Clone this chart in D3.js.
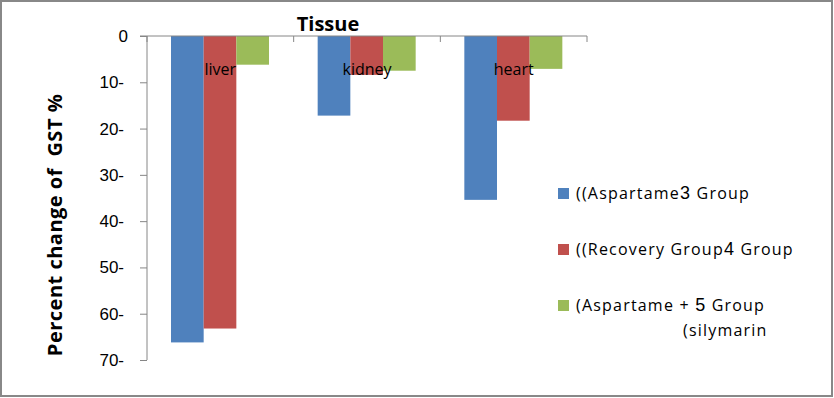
<!DOCTYPE html>
<html lang="en">
<head>
  <meta charset="UTF-8">
  <title>Percent change of GST</title>
  <script src="https://d3js.org/d3.v7.min.js"></script>
  <style>
    body { margin: 0; background: #fff; }
    svg { display: block; }
  </style>
</head>
<body>

<svg width="834" height="398"></svg>

<script>
  const tissues = ["liver", "kidney", "heart"];
  const groups = ["g3", "g4", "g5"];
  const aspartame = [66.2, 17.2, 35.4];
  const recovery = [63.2, 8.4, 18.3];
  const silymarin = [6.2, 7.5, 7.1];
  const yTicks = [0, 10, 20, 30, 40, 50, 60, 70];
  const colors = ["#4F81BD", "#C0504D", "#9BBB59"];
  const legendLabels = [
    [["((Aspartame", "3", " Group"]],
    [["((Recovery Group", "4", " Group"]],
    [["(Aspartame + ", "5", " Group"], ["(silymarin"]]
  ];

  const series = [aspartame, recovery, silymarin];
  const data = tissues.map((t, i) => ({ tissue: t, values: series.map(s => s[i]) }));

  const svg = d3.select("svg");
  const txtFont = "'Open Sans', 'Noto Sans', sans-serif";

  // outer frame
  svg.append("rect")
    .attr("x", 1).attr("y", 1).attr("width", 831).attr("height", 395)
    .attr("fill", "#fff").attr("stroke", "#888").attr("stroke-width", 2);

  const x0 = d3.scaleBand().domain(tissues).range([147, 587]);
  const x1 = d3.scaleBand().domain(groups).range([24, 122]);
  const y = d3.scaleLinear().domain([0, 70]).range([36, 360]);

  // bars
  svg.append("g").selectAll("g")
    .data(data)
    .join("g")
    .attr("transform", d => `translate(${x0(d.tissue)},0)`)
    .selectAll("rect")
    .data(d => d.values.map((v, i) => ({ v, i })))
    .join("rect")
    .attr("x", d => x1(groups[d.i]))
    .attr("y", y(0))
    .attr("width", x1.bandwidth())
    .attr("height", d => y(d.v) - y(0))
    .attr("fill", d => colors[d.i]);

  // top category axis
  const xAxis = svg.append("g")
    .attr("transform", `translate(0,${y(0)})`)
    .call(d3.axisBottom(x0).tickSize(0).tickFormat(""));
  xAxis.select(".domain").attr("stroke", "#868686").attr("d", "M140,0H587");
  xAxis.selectAll(".tick").remove();
  xAxis.selectAll(".sep")
    .data(tissues.map(t => x0(t)).concat([x0.range()[1]]))
    .join("line")
    .attr("x1", d => d).attr("x2", d => d)
    .attr("y1", 0).attr("y2", 6)
    .attr("stroke", "#868686");

  // category labels inside plot
  svg.append("g").selectAll("text")
    .data(tissues)
    .join("text")
    .attr("x", d => x0(d) + x0.bandwidth() / 2)
    .attr("y", 75)
    .attr("text-anchor", "middle")
    .attr("font-family", txtFont)
    .attr("font-size", 16)
    .attr("fill", "#000")
    .text(d => d);

  // y axis
  const yAxis = svg.append("g")
    .attr("transform", "translate(147,0)")
    .call(d3.axisLeft(y).tickValues(yTicks).tickSize(7).tickPadding(16)
      .tickFormat(d => d === 0 ? "0" : d + "-"));
  yAxis.select(".domain").attr("stroke", "#868686").attr("d", "M0,36V360");
  yAxis.selectAll(".tick line").attr("stroke", "#868686");
  yAxis.selectAll(".tick text")
    .attr("font-family", "Arial, 'Liberation Sans', sans-serif")
    .attr("font-size", 17)
    .attr("fill", "#000")
    .attr("dx", d => d === 0 ? 4 : 0);

  // title
  svg.append("text")
    .attr("x", 328).attr("y", 31)
    .attr("text-anchor", "middle")
    .attr("font-family", txtFont)
    .attr("font-weight", "bold")
    .attr("font-size", 20)
    .text("Tissue");

  // y axis title
  svg.append("text")
    .attr("transform", "translate(62,225) rotate(-90)")
    .attr("text-anchor", "middle")
    .attr("font-family", txtFont)
    .attr("font-weight", "bold")
    .attr("font-size", 20)
    .attr("letter-spacing", 0.5)
    .attr("xml:space", "preserve")
    .text("Percent change of  GST %");

  // legend
  const legendY = [193, 249, 305];
  const legend = svg.append("g");
  legendLabels.forEach((lines, i) => {
    legend.append("rect")
      .attr("x", 558).attr("y", legendY[i] - 5)
      .attr("width", 11).attr("height", 11)
      .attr("fill", colors[i]);
    lines.forEach((parts, j) => {
      const t = legend.append("text")
        .attr("x", j === 0 ? 576 : 683)
        .attr("y", legendY[i] + 6 + j * 25)
        .attr("font-family", txtFont)
        .attr("font-size", 16)
        .attr("letter-spacing", 1.2)
        .attr("fill", "#000")
        .attr("xml:space", "preserve");
      parts.forEach((p, k) => {
        t.append("tspan")
          .attr("font-size", k === 1 ? 18 : 16)
          .attr("font-family", k === 1 ? "Arial, sans-serif" : txtFont)
          .text(p);
      });
    });
  });
</script>

</body>
</html>
